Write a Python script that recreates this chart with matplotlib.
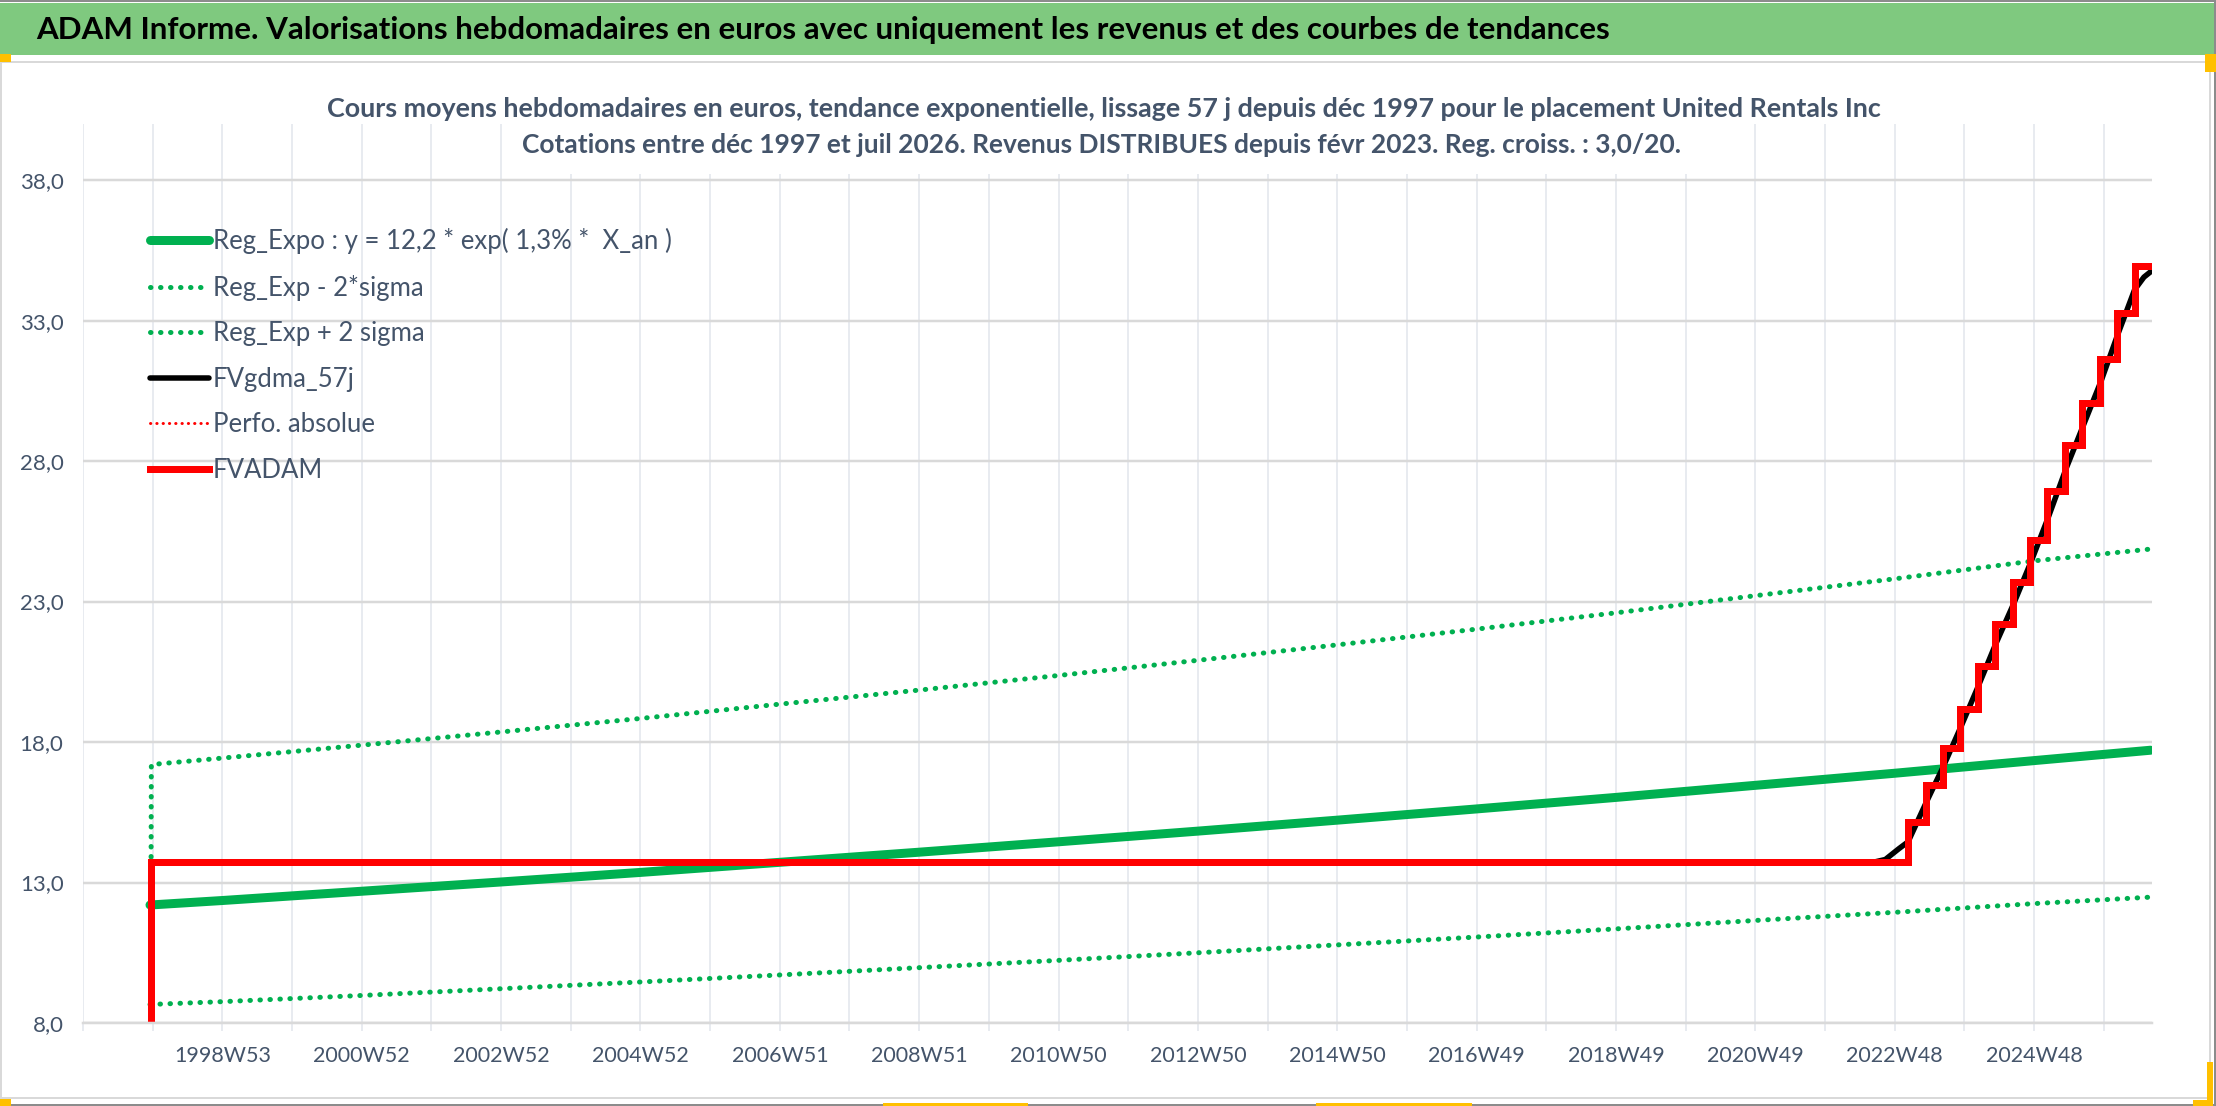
import numpy as np
import matplotlib.pyplot as plt
from matplotlib.patches import Rectangle

W, H = 2216, 1106
DPI = 100

plt.rcParams['font.family'] = ['Lato', 'DejaVu Sans']

# x = weekly category index of the Excel axis (0 = first, empty, category)
tick_idx = [104, 208, 312, 416, 520, 624, 728, 832, 936, 1040, 1144, 1248, 1352, 1456]
tick_labels = ['1998W53', '2000W52', '2002W52', '2004W52', '2006W51', '2008W51', '2010W50',
               '2012W50', '2014W50', '2016W49', '2018W49', '2020W49', '2022W48', '2024W48']
n_weeks = 1544

y_ticks = [8, 13, 18, 23, 28, 33, 38]

# trend lines, read every two years
reg_x = [50, 104, 208, 312, 416, 520, 624, 728, 832, 936, 1040, 1144, 1248, 1352, 1456, 1543]
reg_y = [12.2, 12.36, 12.69, 13.02, 13.36, 13.72, 14.08, 14.45, 14.83, 15.22, 15.62, 16.03,
         16.46, 16.89, 17.34, 17.71]
low_y = [8.66, 8.76, 8.98, 9.22, 9.46, 9.71, 9.97, 10.23, 10.50, 10.78, 11.06, 11.35,
         11.65, 11.94, 12.25, 12.48]
up_x = [50, 51, 104, 208, 312, 416, 520, 624, 728, 832, 936, 1040, 1144, 1248, 1352, 1456, 1543]
up_y = [0, 17.2, 17.43, 17.89, 18.36, 18.84, 19.35, 19.85, 20.37, 20.91, 21.46, 22.02, 22.6,
        23.21, 23.81, 24.45, 24.87]

# FVgdma_57j (smoothed)
gdma_x = [50, 51, 1334, 1345, 1355, 1362, 1375, 1388, 1401, 1414, 1427, 1441, 1454, 1467,
          1480, 1493, 1506, 1518, 1531, 1538, 1544]
gdma_y = [0, 13.7, 13.7, 13.82, 14.2, 14.45, 15.8, 17.1, 18.5, 19.95, 21.45, 22.95, 24.45,
          26.05, 27.75, 29.3, 30.85, 32.45, 34.1, 34.55, 34.78]

# FVADAM, quarterly steps after feb 2023
adam_x = [50, 51, 1362, 1375, 1388, 1401, 1414, 1427, 1440, 1453, 1466, 1479, 1492, 1505,
          1518, 1531, 1544]
adam_y = [0, 13.72, 15.14, 16.46, 17.79, 19.19, 20.7, 22.2, 23.68, 25.19, 26.94, 28.56,
          30.06, 31.62, 33.27, 34.94, 34.94]

title = ("ADAM Informe. Valorisations hebdomadaires en euros avec uniquement les revenus "
         "et des courbes de tendances")
sub1 = ("Cours moyens hebdomadaires en euros, tendance exponentielle, lissage 57 j depuis "
        "déc 1997 pour le placement United Rentals Inc")
sub2 = ("Cotations entre déc 1997 et juil 2026. Revenus DISTRIBUES depuis févr 2023. "
        "Reg. croiss. : 3,0/20.")

GREEN = '#00B050'
RED = '#FF0000'
TXT = '#44546A'
PX = 72 / DPI  # one pixel in points


def fx(px):
    return px / W


def fy(py):
    return 1 - py / H


def fig_rect(x, y, w, h, **kw):
    fig.add_artist(Rectangle((fx(x), fy(y + h)), fx(w), fy(y) - fy(y + h),
                             transform=fig.transFigure, **kw))


fig = plt.figure(figsize=(W / DPI, H / DPI), dpi=DPI)
fig.patch.set_facecolor('white')

# banner and frame
fig_rect(0, 3, W, 52, facecolor='#7FC97F', edgecolor='none', zorder=0)
fig_rect(1, 62, 2209, 1036, facecolor='none', edgecolor='#D9D9D9', lw=2 * PX, zorder=0)
for r in [(0, 0, W, 2), (0, 1104, W, 2), (2214, 0, 2, H)]:
    fig_rect(*r, facecolor='#8C8C8C', edgecolor='none')
for r in [(0, 54, 11, 8), (2205, 54, 11, 18), (0, 1099, 11, 7), (2207, 1062, 6, 44),
          (2193, 1100, 20, 6), (883, 1103, 145, 3), (1316, 1103, 156, 3)]:
    fig_rect(*r, facecolor='#FFC000', edgecolor='none')

fig.text(fx(36), fy(30), title, ha='left', va='center', fontsize=22.5, weight='bold',
         color='black')

ax = fig.add_axes([fx(83), fy(1023), fx(2152) - fx(83), fy(124) - fy(1023)])
ax.set_xlim(0, n_weeks)
ax.set_ylim(8, 40)

ax.plot(reg_x, reg_y, color=GREEN, lw=9 * PX, solid_capstyle='round',
        label='Reg_Expo : y = 12,2 * exp( 1,3% *  X_an )')
ax.plot(reg_x, low_y, color=GREEN, lw=5 * PX, linestyle=(0, (0.1, 1.9)),
        dash_capstyle='round', label='Reg_Exp - 2*sigma')
ax.plot(up_x, up_y, color=GREEN, lw=5 * PX, linestyle=(0, (0.1, 1.9)),
        dash_capstyle='round', label='Reg_Exp + 2 sigma')
ax.plot(gdma_x, gdma_y, color='black', lw=5.5 * PX, solid_capstyle='round', label='FVgdma_57j')
ax.plot([], [], color=RED, lw=3 * PX, linestyle=(0, (0.1, 2.0)), dash_capstyle='round',
        label='Perfo. absolue')
ax.plot(adam_x, adam_y, color=RED, lw=7 * PX, drawstyle='steps-post', solid_joinstyle='miter',
        label='FVADAM')

ticks = list(range(0, n_weeks, 52))
lab = dict(zip(tick_idx, tick_labels))
ax.set_xticks(ticks)
ax.set_xticklabels([lab.get(t, '') for t in ticks])
ax.set_yticks(y_ticks)
ax.set_yticklabels([f'{v:.1f}'.replace('.', ',') for v in y_ticks])

ax.set_axisbelow(True)
ax.grid(axis='y', color='#D9D9D9', lw=2.5 * PX)
ax.grid(axis='x', color='#E3E7ED', lw=1.6 * PX)
for s in ['top', 'right', 'left']:
    ax.spines[s].set_visible(False)
ax.spines['bottom'].set_color('#D9D9D9')
ax.spines['bottom'].set_linewidth(2.5 * PX)
ax.tick_params(axis='x', length=8 * PX, width=1.6 * PX, color='#E3E7ED', labelcolor=TXT,
               labelsize=15.5, pad=11)
ax.tick_params(axis='y', length=0, labelcolor=TXT, labelsize=16, pad=14)

leg = ax.legend(loc='upper left', bbox_to_anchor=(0.021, 0.91), frameon=False, fontsize=18.5,
                handlelength=2.3, handletextpad=0.15, labelspacing=0.8, labelcolor=TXT)

fig.text(fx(1104), fy(109), sub1, ha='center', va='center', fontsize=19.4, weight='bold',
         color=TXT, zorder=6)
fig.text(fx(1102), fy(145), sub2, ha='center', va='center', fontsize=19, weight='bold',
         color=TXT, zorder=5, bbox=dict(facecolor='white', edgecolor='none', pad=12))

fig.savefig('out.png', dpi=DPI, facecolor='white')
